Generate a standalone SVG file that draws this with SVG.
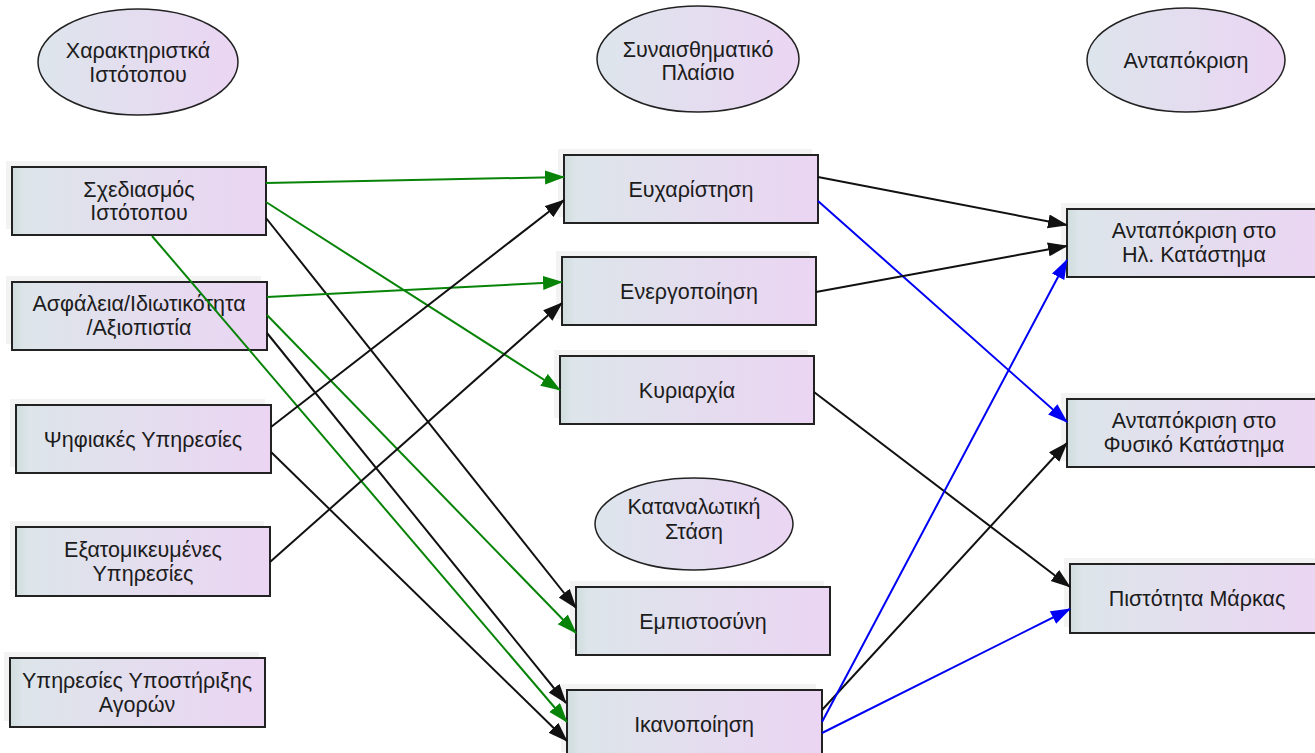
<svg xmlns="http://www.w3.org/2000/svg" width="1315" height="753" viewBox="0 0 1315 753">
  <defs>
    <linearGradient id="boxFill" x1="0" y1="0" x2="1" y2="0">
      <stop offset="0" stop-color="#cfdcdc"/>
      <stop offset="0.05" stop-color="#dde5ea"/>
      <stop offset="1" stop-color="#ebd5f3"/>
    </linearGradient>
    <linearGradient id="ellFill" x1="0" y1="0" x2="1" y2="0">
      <stop offset="0" stop-color="#dde5ec"/>
      <stop offset="1" stop-color="#ebd5f3"/>
    </linearGradient>
    <marker id="arrK" markerUnits="userSpaceOnUse" markerWidth="24" markerHeight="16" refX="19" refY="7" orient="auto">
      <path d="M0,0 L20,7 L0,14 z" fill="#111"/>
    </marker>
    <marker id="arrG" markerUnits="userSpaceOnUse" markerWidth="24" markerHeight="16" refX="19" refY="7" orient="auto">
      <path d="M0,0 L20,7 L0,14 z" fill="#078407"/>
    </marker>
    <marker id="arrB" markerUnits="userSpaceOnUse" markerWidth="24" markerHeight="16" refX="19" refY="7" orient="auto">
      <path d="M0,0 L20,7 L0,14 z" fill="#0000f5"/>
    </marker>
  </defs>
  <style>
    .shadow { fill: #f3f3f3; }
    .box { fill: url(#boxFill); stroke: #222; stroke-width: 2; }
    .ell { fill: url(#ellFill); stroke: #222; stroke-width: 1.5; }
    text { font-family: "Liberation Sans", Arial, sans-serif; font-size: 21.5px; fill: #1c1c1c; text-anchor: middle; }
    .edge { fill: none; stroke-width: 2; }
    .k { stroke: #111; marker-end: url(#arrK); }
    .g { stroke: #078407; marker-end: url(#arrG); }
    .b { stroke: #0000f5; marker-end: url(#arrB); }
  </style>
  <rect width="1315" height="753" fill="#ffffff"/>

  <!-- column headers -->
  <g id="hdr-site">
    <ellipse class="ell" cx="138" cy="62" rx="100" ry="53"/>
    <text x="138" y="58">Χαρακτηριστκά</text>
    <text x="138" y="82">Ιστότοπου</text>
  </g>
  <g id="hdr-emotion">
    <ellipse class="ell" cx="698" cy="59" rx="101" ry="53"/>
    <text x="698" y="57">Συναισθηματικό</text>
    <text x="698" y="80">Πλαίσιο</text>
  </g>
  <g id="hdr-response">
    <ellipse class="ell" cx="1186" cy="60" rx="99" ry="52"/>
    <text x="1186" y="68">Ανταπόκριση</text>
  </g>
  <g id="hdr-attitude">
    <ellipse class="ell" cx="694" cy="524" rx="99" ry="46"/>
    <text x="694" y="514">Καταναλωτική</text>
    <text x="694" y="539">Στάση</text>
  </g>

  <!-- left column -->
  <g id="n-design">
    <rect class="shadow" x="6" y="161" width="254" height="68"/>
    <rect class="box" x="12" y="167" width="254" height="68"/>
    <text x="139" y="197">Σχεδιασμός</text>
    <text x="139" y="220">Ιστότοπου</text>
  </g>
  <g id="n-security">
    <rect class="shadow" x="6" y="276" width="255" height="68"/>
    <rect class="box" x="12" y="282" width="255" height="68"/>
    <text x="139" y="311">Ασφάλεια/Ιδιωτικότητα</text>
    <text x="139" y="335">/Αξιοπιστία</text>
  </g>
  <g id="n-digital">
    <rect class="shadow" x="10" y="399" width="255" height="68"/>
    <rect class="box" x="16" y="405" width="255" height="68"/>
    <text x="143" y="447">Ψηφιακές Υπηρεσίες</text>
  </g>
  <g id="n-personal">
    <rect class="shadow" x="10" y="521" width="254" height="69"/>
    <rect class="box" x="16" y="527" width="254" height="69"/>
    <text x="143" y="557">Εξατομικευμένες</text>
    <text x="143" y="581">Υπηρεσίες</text>
  </g>
  <g id="n-support">
    <rect class="shadow" x="4" y="652" width="255" height="69"/>
    <rect class="box" x="10" y="658" width="255" height="69"/>
    <text x="137" y="688">Υπηρεσίες Υποστήριξης</text>
    <text x="137" y="712">Αγορών</text>
  </g>

  <!-- middle column -->
  <g id="n-pleasure">
    <rect class="shadow" x="558" y="149" width="254" height="68"/>
    <rect class="box" x="564" y="155" width="254" height="68"/>
    <text x="691" y="197">Ευχαρίστηση</text>
  </g>
  <g id="n-arousal">
    <rect class="shadow" x="556" y="251" width="254" height="68"/>
    <rect class="box" x="562" y="257" width="254" height="68"/>
    <text x="689" y="299">Ενεργοποίηση</text>
  </g>
  <g id="n-dominance">
    <rect class="shadow" x="554" y="350" width="254" height="68"/>
    <rect class="box" x="560" y="356" width="254" height="68"/>
    <text x="687" y="398">Κυριαρχία</text>
  </g>
  <g id="n-trust">
    <rect class="shadow" x="570" y="581" width="254" height="68"/>
    <rect class="box" x="576" y="587" width="254" height="68"/>
    <text x="703" y="629">Εμπιστοσύνη</text>
  </g>
  <g id="n-satisfaction">
    <rect class="shadow" x="561" y="684" width="255" height="68"/>
    <rect class="box" x="567" y="690" width="255" height="68"/>
    <text x="694" y="732">Ικανοποίηση</text>
  </g>

  <!-- right column -->
  <g id="n-online">
    <rect class="shadow" x="1061" y="203" width="254" height="68"/>
    <rect class="box" x="1067" y="209" width="254" height="68"/>
    <text x="1194" y="238">Ανταπόκριση στο</text>
    <text x="1194" y="262">Ηλ. Κατάστημα</text>
  </g>
  <g id="n-physical">
    <rect class="shadow" x="1061" y="393" width="254" height="68"/>
    <rect class="box" x="1067" y="399" width="254" height="68"/>
    <text x="1194" y="428">Ανταπόκριση στο</text>
    <text x="1194" y="452">Φυσικό Κατάστημα</text>
  </g>
  <g id="n-loyalty">
    <rect class="shadow" x="1064" y="558" width="254" height="69"/>
    <rect class="box" x="1070" y="564" width="254" height="69"/>
    <text x="1197" y="606">Πιστότητα Μάρκας</text>
  </g>

  <!-- connectors -->
  <g id="connectors">
    <line class="edge g" x1="266" y1="183" x2="564" y2="177"/>
    <line class="edge g" x1="266" y1="202" x2="560" y2="390"/>
    <line class="edge k" x1="266" y1="218" x2="576" y2="608"/>
    <line class="edge g" x1="152" y1="236" x2="567" y2="722"/>
    <line class="edge g" x1="267" y1="297" x2="562" y2="282"/>
    <line class="edge g" x1="267" y1="315" x2="576" y2="633"/>
    <line class="edge k" x1="267" y1="333" x2="566" y2="703"/>
    <line class="edge k" x1="271" y1="427" x2="564" y2="200"/>
    <line class="edge k" x1="271" y1="452" x2="567" y2="741"/>
    <line class="edge k" x1="270" y1="562" x2="562" y2="303"/>
    <line class="edge k" x1="818" y1="177" x2="1067" y2="225"/>
    <line class="edge b" x1="818" y1="201" x2="1067" y2="422"/>
    <line class="edge k" x1="816" y1="292" x2="1067" y2="246"/>
    <line class="edge k" x1="814" y1="392" x2="1070" y2="587"/>
    <line class="edge k" x1="822" y1="710" x2="1067" y2="443"/>
    <line class="edge b" x1="822" y1="722" x2="1067" y2="260"/>
    <line class="edge b" x1="822" y1="733" x2="1070" y2="609"/>
  </g>
</svg>
